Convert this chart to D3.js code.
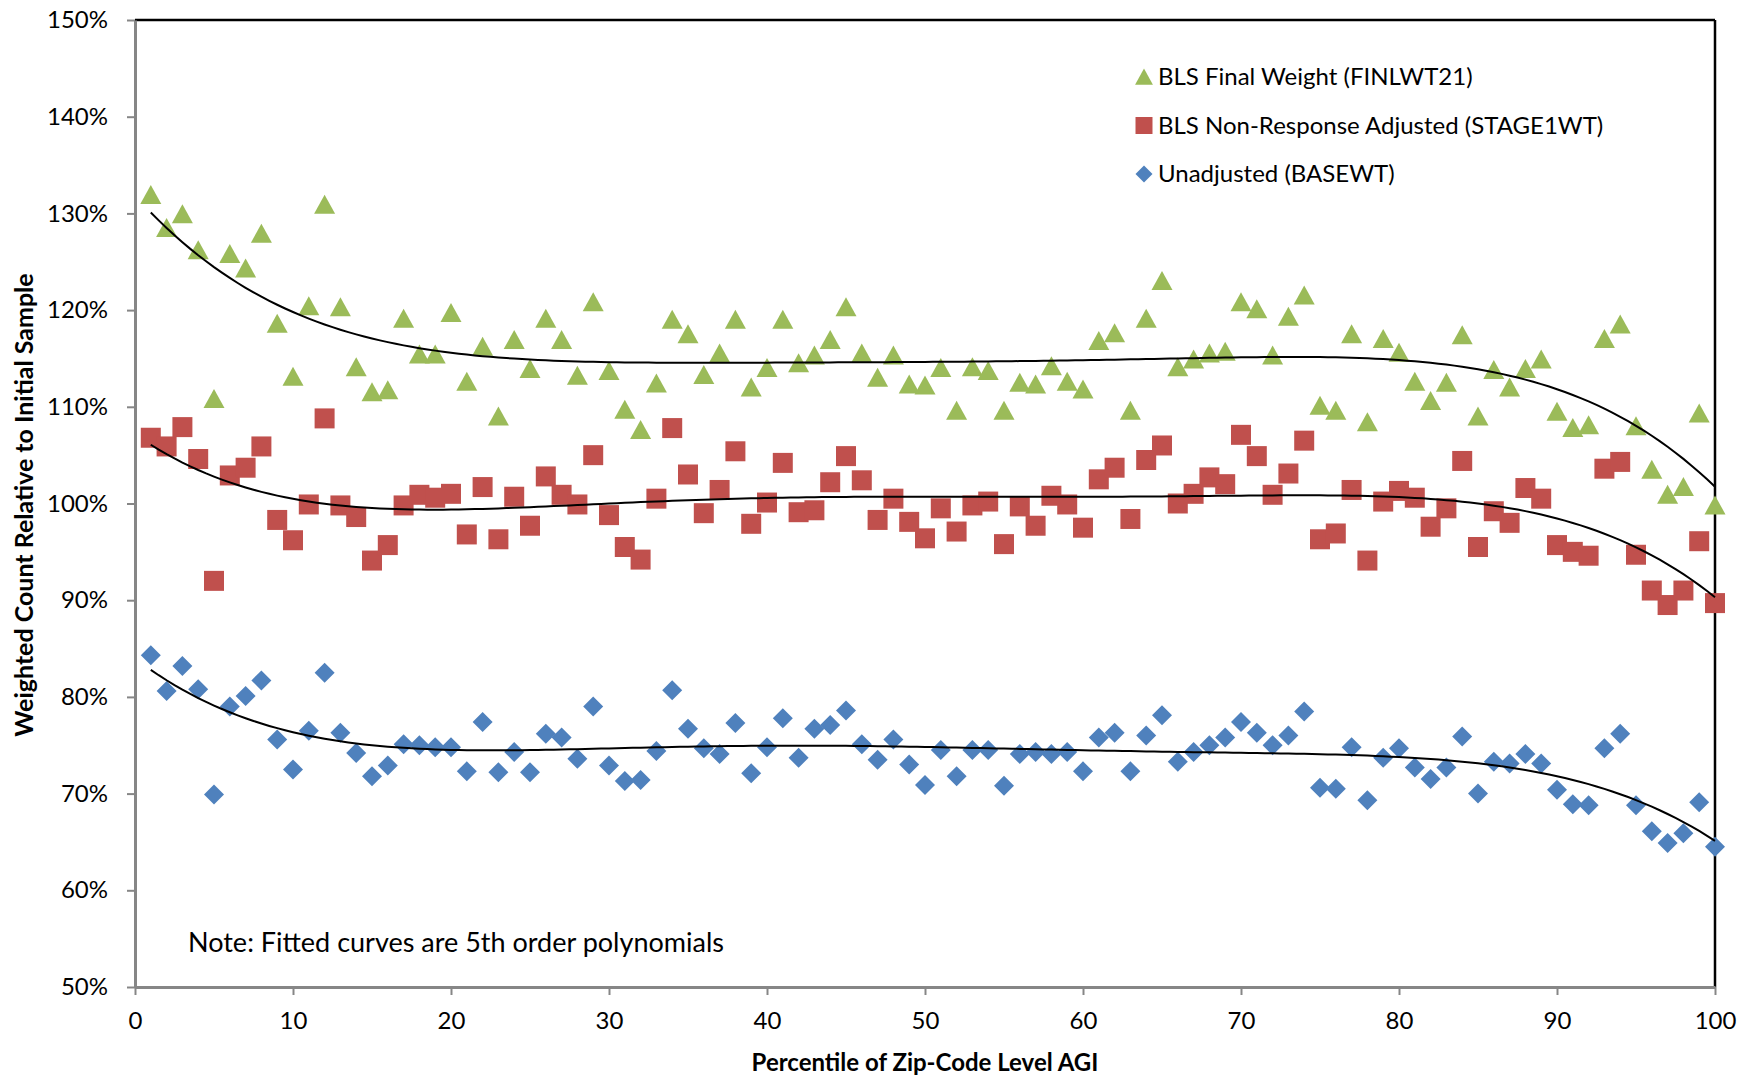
<!DOCTYPE html>
<html>
<head>
<meta charset="utf-8">
<script src="https://cdn.jsdelivr.net/npm/d3@7"></script>
<style>
  body { margin: 0; background: #fff; }
  svg { display: block; font-family: Lato, "Open Sans", sans-serif; }
</style>
</head>
<body>
<svg id="chart" width="1756" height="1076"></svg>
<script>
"use strict";

// percentile of zip-code level AGI, 1..100
var percentiles = d3.range(1, 101);

// weighted count relative to initial sample, in %
var finalWeight = [
  131.9, 128.5, 129.9, 126.2, 110.8, 125.8, 124.3, 127.9, 118.6, 113.1,
  120.4, 130.9, 120.3, 114.1, 111.5, 111.7, 119.1, 115.4, 115.4, 119.7,
  112.6, 116.2, 109.0, 116.9, 113.9, 119.1, 116.9, 113.2, 120.8, 113.7,
  109.7, 107.6, 112.4, 119.0, 117.5, 113.3, 115.5, 119.0, 112.0, 114.0,
  119.0, 114.5, 115.3, 116.9, 120.3, 115.5, 113.0, 115.3, 112.3, 112.2,
  114.0, 109.6, 114.1, 113.7, 109.6, 112.5, 112.3, 114.2, 112.6, 111.8,
  116.8, 117.6, 109.6, 119.1, 123.0, 114.1, 114.9, 115.5, 115.7, 120.8,
  120.1, 115.3, 119.3, 121.5, 110.1, 109.6, 117.5, 108.4, 117.0, 115.6,
  112.6, 110.6, 112.5, 117.4, 109.0, 113.8, 112.0, 113.9, 114.9, 109.5,
  107.8, 108.1, 117.0, 118.5, 108.0, 103.5, 100.9, 101.7, 109.3, 99.8
];

var stage1Weight = [
  106.8, 105.9, 107.9, 104.6, 92.0, 102.9, 103.7, 105.9, 98.3, 96.2,
  99.9, 108.8, 99.8, 98.6, 94.1, 95.7, 99.8, 100.9, 100.6, 101.0,
  96.8, 101.7, 96.3, 100.7, 97.7, 102.8, 100.9, 99.9, 105.0, 98.8,
  95.5, 94.2, 100.5, 107.8, 103.0, 99.0, 101.4, 105.4, 97.9, 100.1,
  104.2, 99.1, 99.3, 102.2, 104.9, 102.4, 98.3, 100.5, 98.1, 96.4,
  99.5, 97.1, 99.8, 100.2, 95.8, 99.7, 97.7, 100.8, 99.9, 97.5,
  102.5, 103.7, 98.4, 104.5, 106.0, 100.0, 101.0, 102.7, 102.0, 107.1,
  104.9, 100.9, 103.1, 106.5, 96.3, 96.9, 101.4, 94.1, 100.2, 101.3,
  100.6, 97.6, 99.5, 104.4, 95.5, 99.2, 98.0, 101.6, 100.5, 95.7,
  95.0, 94.6, 103.6, 104.3, 94.7, 91.0, 89.5, 91.0, 96.1, 89.7
];

var baseWeight = [
  84.3, 80.6, 83.2, 80.8, 69.9, 79.0, 80.1, 81.7, 75.6, 72.5,
  76.5, 82.5, 76.3, 74.2, 71.8, 72.9, 75.1, 75.0, 74.8, 74.8,
  72.3, 77.4, 72.2, 74.3, 72.2, 76.2, 75.8, 73.6, 79.0, 72.9,
  71.3, 71.4, 74.4, 80.7, 76.7, 74.7, 74.1, 77.3, 72.1, 74.8,
  77.8, 73.7, 76.7, 77.1, 78.6, 75.1, 73.5, 75.6, 73.0, 70.9,
  74.5, 71.8, 74.5, 74.5, 70.8, 74.1, 74.3, 74.1, 74.3, 72.3,
  75.8, 76.3, 72.3, 76.0, 78.1, 73.3, 74.3, 75.0, 75.8, 77.4,
  76.3, 75.0, 76.0, 78.5, 70.6, 70.5, 74.8, 69.3, 73.7, 74.7,
  72.7, 71.5, 72.7, 75.9, 70.0, 73.3, 73.1, 74.1, 73.1, 70.4,
  68.9, 68.8, 74.7, 76.2, 68.8, 66.1, 64.9, 65.9, 69.1, 64.5
];

var xTicks = d3.range(0, 101, 10);
var yTicks = d3.range(50, 151, 10);

var MARKER = 20;
var FONT = 24;

var svg = d3.select("#chart");
var margin = { top: 20, right: 41, bottom: 89, left: 135 };
var width = 1756 - margin.left - margin.right;
var height = 1076 - margin.top - margin.bottom;
var g = svg.append("g").attr("transform", "translate(" + margin.left + "," + margin.top + ")");

var x = d3.scaleLinear().domain([0, 100]).range([0, width]);
var y = d3.scaleLinear().domain([50, 150]).range([height, 0]);

// least squares polynomial of given order; t scaled to 0..1 to keep things stable
function polyFit(xs, ys, order) {
  var n = order + 1;
  var A = [], b = [];
  for (var i = 0; i < n; i++) { A.push(new Array(n).fill(0)); b.push(0); }
  xs.forEach(function (xv, k) {
    var t = xv / 100;
    for (var i = 0; i < n; i++) {
      b[i] += Math.pow(t, i) * ys[k];
      for (var j = 0; j < n; j++) A[i][j] += Math.pow(t, i + j);
    }
  });
  for (var c = 0; c < n; c++) {
    var p = c;
    for (var r = c + 1; r < n; r++) if (Math.abs(A[r][c]) > Math.abs(A[p][c])) p = r;
    var tmp = A[c]; A[c] = A[p]; A[p] = tmp;
    var tb = b[c]; b[c] = b[p]; b[p] = tb;
    for (var r2 = c + 1; r2 < n; r2++) {
      var f = A[r2][c] / A[c][c];
      for (var j2 = c; j2 < n; j2++) A[r2][j2] -= f * A[c][j2];
      b[r2] -= f * b[c];
    }
  }
  var coef = new Array(n).fill(0);
  for (var i2 = n - 1; i2 >= 0; i2--) {
    var s = b[i2];
    for (var j3 = i2 + 1; j3 < n; j3++) s -= A[i2][j3] * coef[j3];
    coef[i2] = s / A[i2][i2];
  }
  return function (xv) {
    var t = xv / 100, v = 0;
    for (var k = n - 1; k >= 0; k--) v = v * t + coef[k];
    return v;
  };
}

var series = [
  { name: "Unadjusted (BASEWT)", values: baseWeight, color: "#4F81BD", shape: "diamond" },
  { name: "BLS Non-Response Adjusted (STAGE1WT)", values: stage1Weight, color: "#C0504D", shape: "square" },
  { name: "BLS Final Weight (FINLWT21)", values: finalWeight, color: "#9BBB59", shape: "triangle" }
];

function markerPath(shape) {
  var h = MARKER / 2;
  if (shape === "triangle") return "M0," + (-h) + "L" + (h + 0.5) + "," + (h - 1) + "L" + (-h - 0.5) + "," + (h - 1) + "Z";
  if (shape === "square") return "M" + (-h) + "," + (-h) + "h" + MARKER + "v" + MARKER + "h" + (-MARKER) + "Z";
  return "M0," + (-h) + "L" + h + ",0L0," + h + "L" + (-h) + ",0Z";
}

// axes
var yAxis = d3.axisLeft(y)
  .tickValues(yTicks)
  .tickSize(8)
  .tickSizeOuter(0)
  .tickPadding(19)
  .tickFormat(function (d) { return d + "%"; });

var xAxis = d3.axisBottom(x)
  .tickValues(xTicks)
  .tickSize(8)
  .tickSizeOuter(0)
  .tickPadding(17);

// frame top and right
g.append("line").attr("x1", 0).attr("x2", width).attr("y1", 0).attr("y2", 0)
  .attr("stroke", "#000").attr("stroke-width", 2.5);
g.append("line").attr("x1", width).attr("x2", width).attr("y1", 0).attr("y2", height)
  .attr("stroke", "#000").attr("stroke-width", 2.5);

var gy = g.append("g").call(yAxis);
var gx = g.append("g").attr("transform", "translate(0," + height + ")").call(xAxis);

[gx, gy].forEach(function (ax) {
  ax.select(".domain").attr("stroke", "#868686").attr("stroke-width", 3);
  ax.selectAll(".tick line").attr("stroke", "#868686").attr("stroke-width", 2);
  ax.selectAll(".tick text").attr("fill", "#000").style("font-size", FONT + "px")
    .style("font-family", "Lato, 'Open Sans', sans-serif");
});

// markers
series.forEach(function (s) {
  g.append("g")
    .selectAll("path")
    .data(s.values)
    .enter()
    .append("path")
    .attr("d", markerPath(s.shape))
    .attr("transform", function (d, i) { return "translate(" + x(percentiles[i]) + "," + y(d) + ")"; })
    .attr("fill", s.color);
});

// fitted 5th order trendlines
var xs = d3.range(1, 100.01, 0.5);
series.forEach(function (s) {
  var fit = polyFit(percentiles, s.values, 5);
  var lineGen = d3.line()
    .x(function (d) { return x(d); })
    .y(function (d) { return y(fit(d)); });
  g.append("path")
    .datum(xs)
    .attr("d", lineGen)
    .attr("fill", "none")
    .attr("stroke", "#000")
    .attr("stroke-width", 2);
});

// legend
var legend = g.append("g").attr("transform", "translate(" + (1144 - margin.left) + "," + (77 - margin.top) + ")");
series.slice().reverse().forEach(function (s, i) {
  var row = legend.append("g").attr("transform", "translate(0," + (i * 48.5) + ")");
  row.append("path").attr("d", markerPath(s.shape))
    .attr("transform", "scale(0.85)")
    .attr("fill", s.color);
  row.append("text")
    .attr("x", 14)
    .attr("dy", "0.35em")
    .style("font-size", FONT + "px")
    .text(s.name);
});

// note
g.append("text")
  .attr("x", 188 - margin.left)
  .attr("y", 952 - margin.top)
  .style("font-size", "27px")
  .text("Note: Fitted curves are 5th order polynomials");

// axis titles
svg.append("text")
  .attr("x", margin.left + width / 2)
  .attr("y", 1071)
  .attr("text-anchor", "middle")
  .style("font-size", FONT + "px")
  .style("font-weight", "bold")
  .text("Percentile of Zip-Code Level AGI");

svg.append("text")
  .attr("transform", "translate(33," + 505 + ") rotate(-90)")
  .attr("text-anchor", "middle")
  .style("font-size", "25px")
  .style("font-weight", "bold")
  .text("Weighted Count Relative to Initial Sample");
</script>
</body>
</html>
